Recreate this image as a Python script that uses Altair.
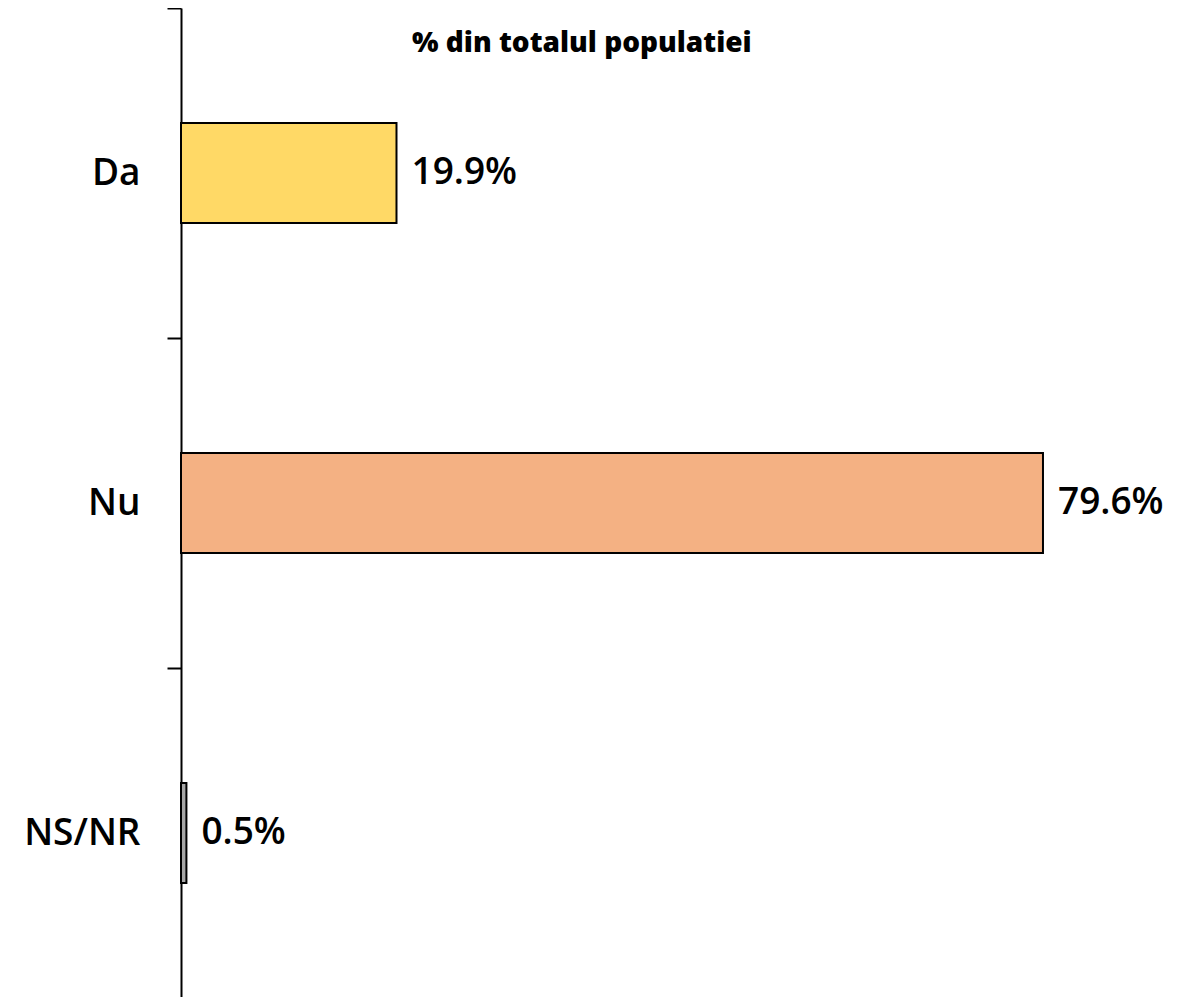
import altair as alt
import pandas as pd

categories = ["Da", "Nu", "NS/NR"]
values = [19.9, 79.6, 0.5]
labels = ["19.9%", "79.6%", "0.5%"]
colors = ["#FFD966", "#F4B183", "#A6A6A6"]
title_text = "% din totalul populatiei"

df = pd.DataFrame({"cat": categories, "val": values, "label": labels})

FONT = "Open Sans"

y = alt.Y(
    "cat:N",
    sort=categories,
    scale=alt.Scale(paddingInner=0, paddingOuter=0),
    axis=alt.Axis(
        title=None,
        tickBand="extent",
        domainColor="black",
        domainWidth=2,
        tickColor="black",
        tickWidth=2,
        tickSize=14,
        labelFontSize=37,
        labelFont=FONT,
        labelFontWeight=600,
        labelColor="black",
        labelPadding=27,
    ),
)
x = alt.X("val:Q", scale=alt.Scale(domain=[0, 91.33], nice=False), axis=None)

bars = alt.Chart(df).mark_bar(height=100, stroke="black", strokeWidth=2).encode(
    x=x,
    y=y,
    color=alt.Color("cat:N", scale=alt.Scale(domain=categories, range=colors), legend=None),
)
text = alt.Chart(df).mark_text(
    align="left", dx=15, baseline="middle", font=FONT, fontSize=37, fontWeight=600, color="black"
).encode(x=x, y=y, text="label:N")

chart = (
    (bars + text)
    .properties(
        width=989,
        height=990,
        title=alt.TitleParams(
            title_text,
            anchor="start",
            frame="group",
            orient="top",
            dx=231,
            dy=44,
            offset=-47,
            baseline="alphabetic",
            font=FONT,
            fontSize=28,
            fontWeight=800,
            color="black",
        ),
        autosize=alt.AutoSizeParams(type="none"),
        padding={"left": 173, "top": 0, "right": 0, "bottom": 0},
    )
    .configure_view(stroke=None)
)

chart.save("out.html", embed_options={"renderer": "svg", "actions": False})
